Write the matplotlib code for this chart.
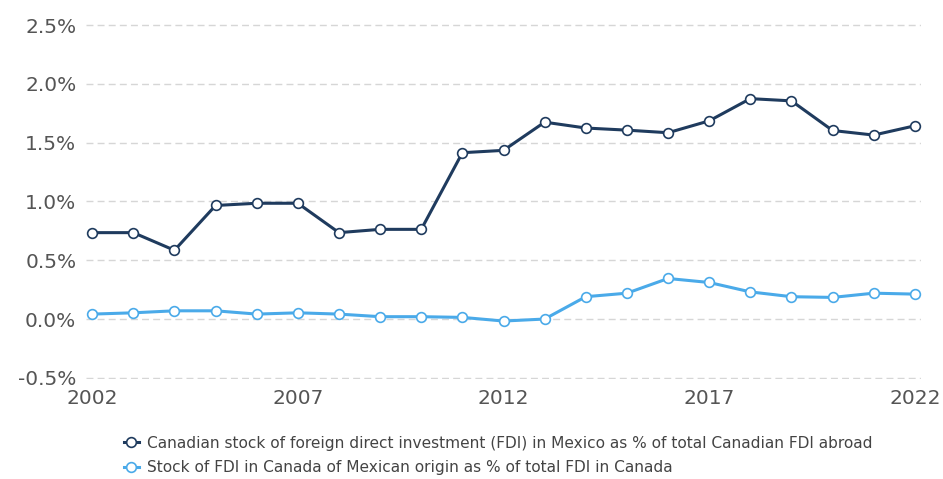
import matplotlib.pyplot as plt
from matplotlib.ticker import FuncFormatter

years = list(range(2002, 2023))
cdn_fdi_in_mexico = [0.735, 0.735, 0.585, 0.966, 0.985, 0.985, 0.735, 0.763, 0.763, 1.415,
                     1.435, 1.675, 1.625, 1.607, 1.585, 1.686, 1.875, 1.856, 1.604, 1.565, 1.644]
mex_fdi_in_canada = [0.042, 0.053, 0.07, 0.07, 0.042, 0.053, 0.042, 0.02, 0.02, 0.014,
                     -0.017, 0.0, 0.19, 0.22, 0.345, 0.311, 0.231, 0.19, 0.184, 0.22, 0.212]
labels = ["Canadian stock of foreign direct investment (FDI) in Mexico as % of total Canadian FDI abroad",
          "Stock of FDI in Canada of Mexican origin as % of total FDI in Canada"]
colors = ["#1f3b5e", "#4aaae9"]
x_ticks = [2002, 2007, 2012, 2017, 2022]
y_ticks = [-0.5, 0.0, 0.5, 1.0, 1.5, 2.0, 2.5]

plt.rcParams['font.family'] = ['DejaVu Sans']

fig = plt.figure(figsize=(9.43, 4.79), dpi=100)
ax = fig.add_axes([0.0912, 0.2088, 0.8855, 0.7411])

for vals, lab, c in zip([cdn_fdi_in_mexico, mex_fdi_in_canada], labels, colors):
    ax.plot(years, vals, color=c, lw=2.2, marker='o', markersize=7,
            markerfacecolor='white', markeredgecolor=c, markeredgewidth=1.2,
            label=lab, zorder=3)

ax.set_xlim(2001.85, 2022.15)
ax.set_ylim(-0.51, 2.51)
ax.set_xticks(x_ticks)
ax.set_yticks(y_ticks)
ax.yaxis.set_major_formatter(FuncFormatter(lambda v, p: f"{v:.1f}%"))
ax.grid(axis='y', color='#d6d6d6', lw=1, linestyle=(0, (5, 3)))
ax.set_axisbelow(True)
for s in ax.spines.values():
    s.set_visible(False)
ax.tick_params(length=0, labelsize=14.5, labelcolor='#555555')
ax.tick_params(axis='x', pad=7)
ax.tick_params(axis='y', pad=7)

fig.legend(loc='upper left', bbox_to_anchor=(0.131, 0.09), frameon=False,
           fontsize=11.1, labelcolor='#444444', handlelength=1.0, handletextpad=0.5,
           labelspacing=0.62, borderaxespad=0, borderpad=0)

fig.savefig('out.png', dpi=100)
